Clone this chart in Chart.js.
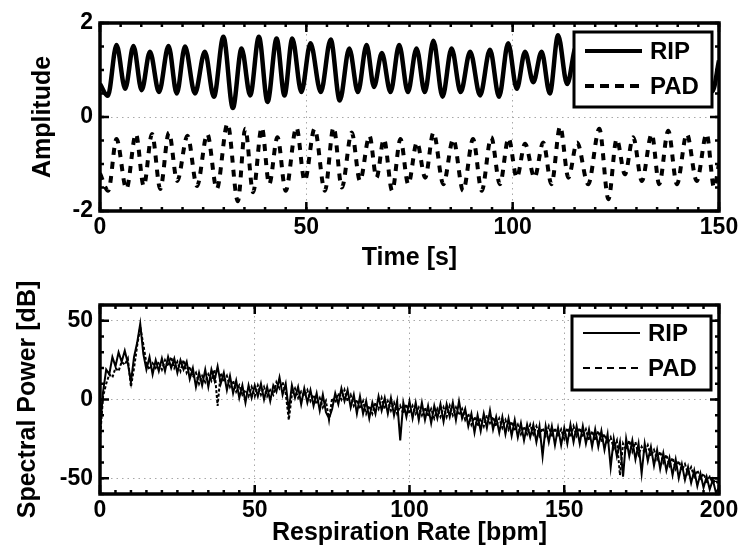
<!DOCTYPE html>
<html>
<head>
<meta charset="utf-8">
<title>RIP vs PAD</title>
<script src="https://cdn.jsdelivr.net/npm/chart.js@4.4.1/dist/chart.umd.min.js"></script>
<style>
  html, body { margin: 0; padding: 0; background: #fff; }
  .panel { position: absolute; left: 0; width: 744px; height: 277px; }
  #top { top: 0; }
  #bottom { top: 277px; }
</style>
</head>
<body>
<div class="panel" id="top"><canvas id="timeChart" width="744" height="277"></canvas></div>
<div class="panel" id="bottom"><canvas id="specChart" width="744" height="277"></canvas></div>
<script>
// ---- top panel: breathing signals (extrema) ----
var ripTime = [0, 1.9, 4.0, 6.1, 8.1, 10.1, 12.1, 14.3, 16.6, 18.6,
  20.6, 23.0, 25.4, 27.6, 29.9, 32.2, 34.3, 36.4, 38.5, 40.6,
  42.8, 44.7, 46.6, 48.8, 51.0, 53.5, 55.9, 58.1, 60.4, 62.5,
  64.6, 66.4, 68.3, 70.4, 72.5, 74.6, 76.7, 78.7, 80.8, 83.0,
  85.2, 87.4, 89.7, 92.1, 94.5, 96.7, 98.9, 101.0, 103.0, 105.0,
  107.0, 109.0, 111.0, 113.2, 115.4, 117.6, 119.8, 122.0, 124.2, 126.4,
  128.6, 130.8, 133.0, 135.2, 137.4, 139.6, 141.8, 144.0, 146.2, 148.4,
  150];
var ripAmp = [0.70, 0.45, 1.53, 0.60, 1.51, 0.57, 1.39, 0.53, 1.51, 0.50,
  1.50, 0.50, 1.39, 0.43, 1.71, 0.19, 1.46, 0.46, 1.71, 0.32,
  1.67, 0.46, 1.67, 0.53, 1.57, 0.53, 1.65, 0.35, 1.46, 0.53,
  1.53, 0.64, 1.36, 0.53, 1.53, 0.53, 1.46, 0.53, 1.62, 0.43,
  1.46, 0.53, 1.39, 0.46, 1.43, 0.43, 1.57, 0.60, 1.39, 0.74,
  1.39, 0.50, 1.74, 0.70, 1.50, 0.55, 1.45, 0.50, 1.55, 0.48,
  1.50, 0.55, 1.45, 0.50, 1.55, 0.52, 1.48, 0.55, 1.50, 0.55,
  1.20];

var padTime = [0, 2.0, 4.0, 6.4, 8.7, 10.6, 12.6, 14.6, 16.7, 18.7,
  21.2, 23.5, 26.0, 28.3, 30.9, 33.4, 35.2, 37.1, 39.2, 41.0,
  43.0, 45.0, 47.6, 49.6, 52.0, 54.5, 56.6, 58.6, 61.0, 63.0,
  65.3, 67.0, 68.8, 70.8, 72.8, 74.7, 76.8, 78.8, 80.8, 83.2,
  85.6, 88.0, 90.4, 92.5, 94.8, 96.9, 99.0, 101.0, 103.0, 105.3,
  107.4, 109.4, 111.5, 113.5, 115.6, 118.3, 121.0, 123.2, 125.2, 127.2,
  129.2, 131.3, 133.7, 135.5, 137.7, 139.8, 142.2, 144.6, 147.0, 148.8,
  150];
var padAmp = [-1.20, -1.57, -0.47, -1.53, -0.36, -1.47, -0.36, -1.53, -0.33, -1.36,
  -0.40, -1.47, -0.36, -1.53, -0.14, -1.79, -0.25, -1.60, -0.22, -1.43,
  -0.43, -1.57, -0.22, -1.36, -0.25, -1.57, -0.22, -1.50, -0.33, -1.36,
  -0.40, -1.29, -0.47, -1.57, -0.47, -1.43, -0.54, -1.29, -0.33, -1.43,
  -0.47, -1.57, -0.47, -1.57, -0.43, -1.43, -0.45, -1.29, -0.57, -1.29,
  -0.54, -1.43, -0.20, -1.29, -0.54, -1.43, -0.25, -1.75, -0.47, -1.22,
  -0.43, -1.36, -0.36, -1.43, -0.29, -1.43, -0.36, -1.36, -0.36, -1.50,
  -1.00];

var timeTicks = [0, 50, 100, 150];
var ampTicks = [-2, 0, 2];

// ---- bottom panel: spectra, one value per bpm (0..200) ----
var ripPower = [-20, 5, 19, 16, 27, 21, 30, 24, 31, 23,
  11, 27, 36, 48, 29, 19, 27, 16, 25, 18,
  26, 18, 27, 20, 26, 17, 25, 19, 24, 13,
  20, 8, 17, 9, 19, 8, 19, 12, 21, 10,
  17, 6, 15, 4, 12, 1, 9, -2, 9, 1,
  9, 2, 10, 0, 8, -1, 9, 5, 14, 3,
  10, -7, 9, 1, 8, -3, 7, -2, 6, -4,
  4, -7, 3, -8, -12, -6, 4, -3, 7, -1,
  6, -5, 3, -9, 2, -9, -1, -12, -2, -9,
  2, -7, 1, -9, 1, -10, -1, -26, -2, -11,
  -1, -12, -2, -13, -2, -13, -4, -15, -4, -12,
  -3, -14, -3, -11, -2, -13, -1, -12, -6, -17,
  -9, -21, -10, -20, -9, -18, -7, -19, -11, -21,
  -11, -22, -12, -23, -13, -24, -15, -26, -16, -24,
  -16, -27, -17, -36, -17, -27, -17, -29, -18, -29,
  -18, -28, -16, -27, -17, -28, -17, -28, -19, -30,
  -19, -30, -20, -32, -22, -43, -25, -36, -27, -49,
  -25, -36, -26, -38, -28, -47, -28, -39, -30, -42,
  -32, -44, -34, -45, -37, -48, -38, -50, -41, -51,
  -43, -53, -45, -55, -47, -56, -49, -57, -51, -59,
  -56];
var padPower = [-25, 2, 10, 16, 14, 20, 18, 24, 22, 26,
  8, 20, 34, 46, 35, 23, 19, 23, 20, 24,
  19, 25, 21, 27, 20, 24, 18, 25, 17, 21,
  14, 17, 10, 15, 11, 16, 12, 19, -4, 17,
  11, 15, 8, 12, 5, 9, 3, 6, 2, 8,
  2, 9, 3, 8, 2, 6, 3, 11, 7, 11,
  4, -13, 3, 7, 1, 5, 2, 6, -1, 3,
  -3, 1, -5, -1, -13, 1, -2, 4, 0, 6,
  -1, 3, -4, 0, -6, -1, -9, -4, -9, -2,
  -6, 1, -6, -1, -7, -2, -9, -4, -9, -3,
  -9, -4, -9, -5, -10, -5, -11, -6, -12, -6,
  -11, -5, -11, -4, -10, -5, -10, -6, -13, -9,
  -16, -11, -17, -12, -17, -10, -15, -11, -17, -12,
  -18, -13, -19, -14, -20, -16, -22, -17, -22, -16,
  -22, -17, -23, -18, -23, -17, -24, -18, -24, -19,
  -25, -18, -24, -17, -23, -18, -24, -19, -26, -20,
  -26, -20, -27, -22, -28, -24, -31, -26, -48, -28,
  -32, -26, -33, -27, -35, -30, -34, -29, -36, -32,
  -38, -33, -40, -35, -42, -37, -44, -39, -45, -41,
  -47, -43, -49, -45, -50, -47, -52, -49, -53, -51,
  -55];

var rateTicks = [0, 50, 100, 150, 200];
var powerTicks = [-50, 0, 50];

var FAMILY = "'Liberation Sans', Arial, Helvetica, sans-serif";
Chart.defaults.font.family = FAMILY;
Chart.defaults.color = '#000';

var FONT_TICK = { size: 23, weight: 'bold' };
var FONT_TITLE = { size: 25, weight: 'bold' };

function fixedTicks(values) {
  return function (scale) {
    scale.ticks = values.map(function (v) { return { value: v }; });
  };
}

function pairs(xs, ys) {
  return ys.map(function (v, i) { return { x: xs[i], y: v }; });
}

// matlab style box: inward ticks on all sides, thick frame, boxed legend
var matlabAxes = {
  id: 'matlabAxes',
  afterDatasetsDraw: function (chart, args, o) {
    var ctx = chart.ctx, a = chart.chartArea;
    var xs = chart.scales.x, ys = chart.scales.y;
    ctx.save();
    ctx.strokeStyle = '#000';
    ctx.setLineDash([]);
    ctx.lineWidth = 2.5;

    function vMark(v, len) {
      var px = xs.getPixelForValue(v);
      ctx.beginPath();
      ctx.moveTo(px, a.bottom); ctx.lineTo(px, a.bottom - len);
      ctx.moveTo(px, a.top); ctx.lineTo(px, a.top + len);
      ctx.stroke();
    }
    function hMark(v, len) {
      var py = ys.getPixelForValue(v);
      ctx.beginPath();
      ctx.moveTo(a.left, py); ctx.lineTo(a.left + len, py);
      ctx.moveTo(a.right, py); ctx.lineTo(a.right - len, py);
      ctx.stroke();
    }
    var v;
    for (v = xs.min; v <= xs.max + 1e-9; v += o.minorX) vMark(v, 4);
    for (v = ys.min; v <= ys.max + 1e-9; v += o.minorY) hMark(v, 4);
    xs.ticks.forEach(function (t) { vMark(t.value, 9); });
    ys.ticks.forEach(function (t) { hMark(t.value, 9); });

    ctx.lineWidth = 3.5;
    ctx.strokeRect(a.left, a.top, a.right - a.left, a.bottom - a.top);

    var L = o.legend;
    var bx = a.right - L.right - L.w, by = a.top + L.top;
    ctx.fillStyle = '#fff';
    ctx.fillRect(bx, by, L.w, L.h);
    ctx.lineWidth = 3;
    ctx.strokeRect(bx, by, L.w, L.h);
    ctx.font = 'bold 24px ' + FAMILY;
    ctx.textBaseline = 'middle';
    ctx.textAlign = 'left';
    chart.data.datasets.forEach(function (ds, i) {
      var ry = by + L.rows[i];
      ctx.beginPath();
      ctx.lineWidth = L.lineWidth;
      ctx.setLineDash(L.dash[i]);
      ctx.moveTo(bx + 11, ry);
      ctx.lineTo(bx + 68, ry);
      ctx.stroke();
      ctx.setLineDash([]);
      ctx.fillStyle = '#000';
      ctx.fillText(ds.label, bx + 76, ry + 1);
    });
    ctx.restore();
  }
};

function axis(opts) {
  return {
    type: 'linear',
    min: opts.min,
    max: opts.max,
    afterBuildTicks: fixedTicks(opts.ticks),
    afterFit: opts.fit,
    grid: { color: '#a8a8a8', lineWidth: 1, drawTicks: false },
    border: { display: false, dash: [1.5, 4] },
    ticks: { font: FONT_TICK, padding: opts.pad, maxRotation: 0, autoSkip: false },
    title: { display: true, text: opts.title, font: FONT_TITLE, padding: opts.titlePad }
  };
}

new Chart(document.getElementById('timeChart'), {
  type: 'line',
  data: {
    datasets: [{
      label: 'RIP',
      data: pairs(ripTime, ripAmp),
      borderColor: '#000',
      borderWidth: 4.5,
      pointRadius: 0,
      cubicInterpolationMode: 'monotone'
    }, {
      label: 'PAD',
      data: pairs(padTime, padAmp),
      borderColor: '#000',
      borderWidth: 4,
      borderDash: [7, 7],
      pointRadius: 0,
      cubicInterpolationMode: 'monotone'
    }]
  },
  options: {
    responsive: false,
    animation: false,
    devicePixelRatio: 1,
    layout: { padding: { top: 23, right: 25, left: 0, bottom: 0 } },
    scales: {
      x: axis({ min: 0, max: 150, ticks: timeTicks, pad: 3, title: 'Time [s]',
        titlePad: { top: 0, bottom: 4 }, fit: function (s) { s.height = 66; } }),
      y: axis({ min: -2, max: 2, ticks: ampTicks, pad: 7, title: 'Amplitude',
        titlePad: { top: 28, bottom: 0 }, fit: function (s) { s.width = 100; } })
    },
    plugins: {
      legend: { display: false },
      tooltip: { enabled: false },
      matlabAxes: {
        minorX: 5, minorY: 0.5,
        legend: { w: 138, h: 75, right: 7, top: 9, rows: [19, 54], lineWidth: 4, dash: [[], [9, 6]] }
      }
    }
  },
  plugins: [matlabAxes]
});

var rateAxis = ripPower.map(function (v, i) { return i; });

new Chart(document.getElementById('specChart'), {
  type: 'line',
  data: {
    datasets: [{
      label: 'RIP',
      data: pairs(rateAxis, ripPower),
      borderColor: '#000',
      borderWidth: 2,
      pointRadius: 0,
      tension: 0
    }, {
      label: 'PAD',
      data: pairs(rateAxis, padPower),
      borderColor: '#000',
      borderWidth: 2,
      borderDash: [3, 2],
      pointRadius: 0,
      tension: 0
    }]
  },
  options: {
    responsive: false,
    animation: false,
    devicePixelRatio: 1,
    layout: { padding: { top: 28, right: 25, left: 0, bottom: 0 } },
    scales: {
      x: axis({ min: 0, max: 200, ticks: rateTicks, pad: 3, title: 'Respiration Rate [bpm]',
        titlePad: { top: 0, bottom: 6 }, fit: function (s) { s.height = 60; } }),
      y: axis({ min: -60, max: 60, ticks: powerTicks, pad: 7, title: 'Spectral Power [dB]',
        titlePad: { top: 13, bottom: 0 }, fit: function (s) { s.width = 100; } })
    },
    plugins: {
      legend: { display: false },
      tooltip: { enabled: false },
      matlabAxes: {
        minorX: 5, minorY: 10,
        legend: { w: 139, h: 74, right: 8, top: 11, rows: [17, 52], lineWidth: 2, dash: [[], [7, 5]] }
      }
    }
  },
  plugins: [matlabAxes]
});
</script>
</body>
</html>
